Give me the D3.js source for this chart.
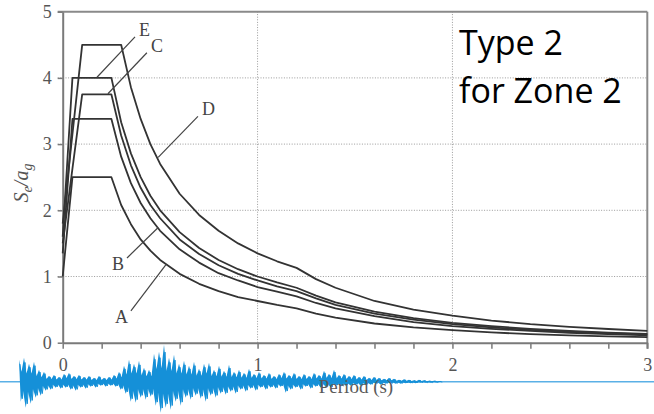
<!DOCTYPE html>
<html>
<head>
<meta charset="utf-8">
<script src="https://cdn.jsdelivr.net/npm/d3@7"></script>
<style>
  body { margin: 0; background: #fff; }
  svg { display: block; }
</style>
</head>
<body>
<div id="chart"></div>
<script>
// periods (s) read along the x axis
const periods = [0, 0.05, 0.1, 0.15, 0.2, 0.25, 0.3, 0.35, 0.4, 0.45, 0.5, 0.6, 0.7, 0.8, 0.9, 1.0,
  1.1, 1.2, 1.3, 1.4, 1.6, 1.8, 2.0, 2.2, 2.4, 2.6, 2.8, 3.0];

// Se/ag read for each ground type
const seriesA = [1.0, 2.5, 2.5, 2.5, 2.5, 2.5, 2.08, 1.79, 1.56, 1.39, 1.25, 1.04, 0.89, 0.78, 0.69, 0.63,
  0.57, 0.52, 0.44, 0.38, 0.29, 0.23, 0.19, 0.155, 0.13, 0.11, 0.096, 0.083];
const seriesB = [1.35, 3.38, 3.38, 3.38, 3.38, 3.38, 2.81, 2.41, 2.11, 1.88, 1.69, 1.41, 1.21, 1.05, 0.94, 0.84,
  0.77, 0.70, 0.60, 0.52, 0.40, 0.31, 0.25, 0.21, 0.18, 0.15, 0.13, 0.11];
const seriesC = [1.5, 2.63, 3.75, 3.75, 3.75, 3.75, 3.13, 2.68, 2.34, 2.08, 1.88, 1.56, 1.34, 1.17, 1.04, 0.94,
  0.85, 0.78, 0.67, 0.57, 0.44, 0.35, 0.28, 0.23, 0.195, 0.166, 0.143, 0.125];
const seriesD = [1.8, 3.15, 4.5, 4.5, 4.5, 4.5, 4.5, 3.86, 3.38, 3.0, 2.7, 2.25, 1.93, 1.69, 1.5, 1.35,
  1.23, 1.13, 0.96, 0.83, 0.63, 0.5, 0.41, 0.335, 0.28, 0.24, 0.207, 0.18];
const seriesE = [1.6, 4.0, 4.0, 4.0, 4.0, 4.0, 3.33, 2.86, 2.5, 2.22, 2.0, 1.67, 1.43, 1.25, 1.11, 1.0,
  0.91, 0.83, 0.71, 0.61, 0.47, 0.37, 0.30, 0.25, 0.21, 0.18, 0.153, 0.133];

const xTicks = [0, 0.2, 0.4, 0.6, 0.8, 1, 1.2, 1.4, 1.6, 1.8, 2, 2.2, 2.4, 2.6, 2.8, 3];
const yTicks = [0, 1, 2, 3, 4, 5];

// curve labels: [label, point on curve (T, Se/ag), end of leader (T, Se/ag), text anchor]
const labels = [
  ['E', [0.176, 4.01], [0.371, 4.62], 'start'],
  ['C', [0.232, 3.76], [0.432, 4.38], 'start'],
  ['D', [0.49, 2.80], [0.694, 3.42], 'start'],
  ['B', [0.49, 1.74], [0.33, 1.28], 'end'],
  ['A', [0.53, 1.18], [0.35, 0.48], 'end']
];

// accelerogram envelope (arbitrary units), above and below the zero line
const waveUp = [22, 24, 18, 20, 12, 10, 6, 7, 5, 8, 9, 6, 7, 5, 6, 4, 6, 4, 5, 7,
  10, 16, 22, 18, 21, 14, 12, 28, 30, 37, 24, 27, 18, 21, 16, 20, 13, 18, 19, 12,
  16, 11, 17, 10, 12, 9, 13, 8, 10, 7, 9, 6, 8, 10, 7, 9, 6, 8, 6, 9,
  7, 11, 8, 12, 7, 8, 6, 7, 5, 6, 4, 5, 4, 3, 4, 3, 2, 2.5, 2, 1.5,
  2, 1.5, 1, 1, 0.5];
const waveDown = [20, 26, 22, 16, 14, 9, 8, 6, 7, 6, 8, 9, 6, 7, 5, 6, 4, 5, 4, 5,
  8, 12, 20, 21, 16, 18, 15, 24, 31, 26, 28, 20, 24, 16, 18, 14, 17, 20, 14, 16,
  12, 13, 10, 12, 8, 10, 7, 9, 6, 8, 6, 7, 5, 11, 8, 6, 8, 5, 7, 5,
  6, 5, 6, 4, 5, 4, 4, 3, 4, 3, 3, 2, 3, 2, 2, 2, 2, 1.5, 1.5, 1.5,
  1, 1, 1, 0.8, 0.5];

const W = 654, H = 414;
const svg = d3.select('#chart').append('svg').attr('width', W).attr('height', H);

const x = d3.scaleLinear().domain([0, 3]).range([62.7, 647.3]);
const y = d3.scaleLinear().domain([0, 5]).range([342.7, 11.7]);

const serif = '"Liberation Serif", "DejaVu Serif", serif';

// accelerogram strip (drawn first, chart text sits on top of it)
const base = 381.7;
const wx = d3.scaleLinear().domain([0, waveUp.length - 1]).range([19, 439]);
const wy = d3.scaleLinear().domain([-40, 40]).range([base + 40, base - 40]);
const blue = '#1590d8';
svg.append('line').attr('x1', 0).attr('x2', W).attr('y1', base).attr('y2', base)
  .attr('stroke', '#5ab0e6').attr('stroke-width', 1.4);
// spiky outline: full peaks at samples, shallow notches between them
const upPts = [], downPts = [];
waveUp.forEach((u, i) => {
  upPts.push([wx(i), wy(u)]);
  downPts.push([wx(i + 0.35), wy(-waveDown[i])]);
  if (i < waveUp.length - 1) {
    upPts.push([wx(i + 0.5), wy(Math.min(u, waveUp[i + 1]) * 0.45)]);
    downPts.push([wx(i + 0.8), wy(-Math.min(waveDown[i], waveDown[i + 1]) * 0.45)]);
  }
});
svg.append('path').attr('d', d3.line()(upPts.concat(downPts.reverse())) + 'Z').attr('fill', blue);
// hairline oscillation
const zig = [];
waveUp.forEach((u, i) => {
  zig.push([wx(i + 0.2), wy(u * 0.8)]);
  zig.push([wx(i + 0.65), wy(-waveDown[i] * 0.85)]);
});
svg.append('path').attr('d', d3.line()(zig)).attr('fill', 'none').attr('stroke', blue).attr('stroke-width', 1);

// grid (dotted)
const grid = svg.append('g').attr('stroke', '#9a9a9a').attr('stroke-width', 1).attr('stroke-dasharray', '1,1.6');
grid.selectAll('line.gy').data([1, 2, 3, 4]).join('line').attr('class', 'gy')
  .attr('x1', x(0) - 5).attr('x2', x(3)).attr('y1', d => y(d)).attr('y2', d => y(d));
grid.selectAll('line.gx').data([1, 2]).join('line').attr('class', 'gx')
  .attr('y1', y(0)).attr('y2', y(5)).attr('x1', d => x(d)).attr('x2', d => x(d));

// frame: top and right
svg.append('line').attr('x1', x(0) - 5).attr('x2', x(3)).attr('y1', y(5)).attr('y2', y(5))
  .attr('stroke', '#8a8a8a').attr('stroke-width', 2);
svg.append('line').attr('x1', x(3)).attr('x2', x(3)).attr('y1', y(5)).attr('y2', y(0) + 6)
  .attr('stroke', '#8a8a8a').attr('stroke-width', 2);

// axes
const xAxis = svg.append('g').attr('transform', `translate(0,${y(0)})`)
  .call(d3.axisBottom(x).tickValues(xTicks).tickSize(6).tickSizeOuter(0).tickPadding(10)
    .tickFormat(d => Number.isInteger(d) ? d : ''));
const yAxis = svg.append('g').attr('transform', `translate(${x(0)},0)`)
  .call(d3.axisLeft(y).tickValues(yTicks).tickSize(5).tickSizeOuter(0).tickPadding(6).tickFormat(d3.format('d')));
[xAxis, yAxis].forEach(a => {
  a.select('.domain').attr('stroke', '#7a7a7a').attr('stroke-width', 2);
  a.selectAll('.tick line').attr('stroke', '#7a7a7a').attr('stroke-width', 1.5);
  a.selectAll('.tick text').attr('fill', '#555').style('font-family', serif).style('font-size', '18px');
});

// axis titles
svg.append('text').attr('x', 356).attr('y', 393).attr('text-anchor', 'middle')
  .style('font-family', serif).style('font-size', '19px').attr('fill', '#5a5a5a').text('Period (s)');
const yt = svg.append('text').attr('transform', 'translate(28,183) rotate(-90)').attr('text-anchor', 'middle')
  .style('font-family', serif).style('font-size', '20px').style('font-style', 'italic').attr('fill', '#555');
yt.append('tspan').text('S');
yt.append('tspan').attr('dy', 4).style('font-size', '14px').text('e');
yt.append('tspan').attr('dy', -4).text('/a');
yt.append('tspan').attr('dy', 4).style('font-size', '14px').text('g');

// spectra
const line = d3.line().x((d, i) => x(periods[i])).y(d => y(d));
svg.append('g').selectAll('path').data([seriesA, seriesB, seriesC, seriesE, seriesD]).join('path')
  .attr('d', line).attr('fill', 'none').attr('stroke', '#333').attr('stroke-width', 1.8)
  .attr('stroke-linejoin', 'round');

// labels with leaders
const lab = svg.append('g');
labels.forEach(([t, p, q, anchor]) => {
  lab.append('line').attr('x1', x(p[0])).attr('y1', y(p[1])).attr('x2', x(q[0])).attr('y2', y(q[1]))
    .attr('stroke', '#444').attr('stroke-width', 1.2);
  lab.append('text').attr('x', x(q[0]) + (anchor === 'start' ? 4 : -3)).attr('y', y(q[1]) + (anchor === 'start' ? -1 : 12))
    .attr('text-anchor', anchor).style('font-family', serif).style('font-size', '18px').attr('fill', '#444').text(t);
});

// zone text
const zt = svg.append('text').style('font-family', '"Open Sans", "Noto Sans", sans-serif')
  .style('font-size', '34px').attr('fill', '#000');
zt.append('tspan').attr('x', 459).attr('y', 55).text('Type 2');
zt.append('tspan').attr('x', 459).attr('y', 103).text('for Zone 2');
</script>
</body>
</html>
